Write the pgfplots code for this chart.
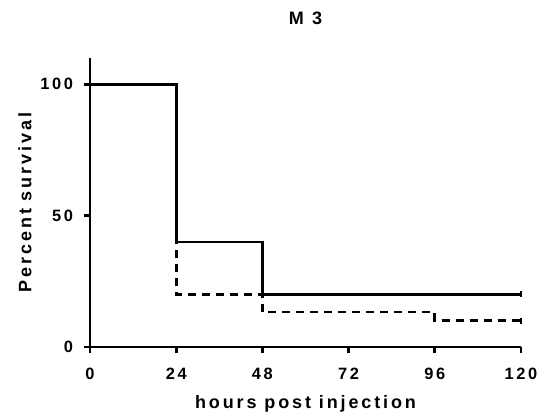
\documentclass[border=0pt]{standalone}
\usepackage{fontspec}
\setmainfont{Liberation Sans}
\usepackage{pgfplots}
\pgfplotsset{compat=1.18}

\begin{document}
\begin{tikzpicture}
\useasboundingbox (-45pt,-35pt) rectangle (225pt,173.5pt);
\begin{axis}[
  at={(0,0)}, anchor=origin,
  scale only axis,
  width=215.5pt, height=144.5pt,
  xmin=0, xmax=120, ymin=0, ymax=110,
  axis lines*=left,
  axis line style={line width=1.4pt},
  every outer x axis line/.append style={-},
  every outer y axis line/.append style={-},
  xtick={0,24,48,72,96,120},
  ytick={0,50,100},
  tick align=outside,
  major tick length=3pt,
  tick style={line width=1.4pt, black},
  /pgf/number format/assume math mode=true,
  tick label style={font=\fontsize{8.2}{9}\selectfont\bfseries\addfontfeatures{LetterSpace=16}},
  xticklabel style={yshift=-4pt},
  yticklabel style={xshift=-2pt},
  xlabel={hours post injection},
  ylabel={Percent survival},
  label style={font=\fontsize{9}{10}\selectfont\bfseries\addfontfeatures{LetterSpace=16}},
  xlabel style={yshift=-1pt},
  ylabel style={yshift=-2.5pt},
  title={M 3},
  title style={yshift=7pt, font=\fontsize{9}{10}\selectfont\bfseries\addfontfeatures{LetterSpace=17}},
  clip=false,
]
\addplot[black, line width=1.4pt, dash pattern=on 4pt off 3pt, const plot] coordinates {
  (0,100) (24,100) (24,20) (48,20) (48,13.33) (96,13.33) (96,10) (120,10)
};
\addplot[black, line width=1.4pt, const plot] coordinates {
  (0,100) (24,100) (24,40) (48,40) (48,20) (120,20)
};
\addplot[black, line width=1.4pt, only marks, mark=|, mark size=1.5pt] coordinates {
  (120,20) (120,10)
};
\end{axis}
\end{tikzpicture}
\end{document}
